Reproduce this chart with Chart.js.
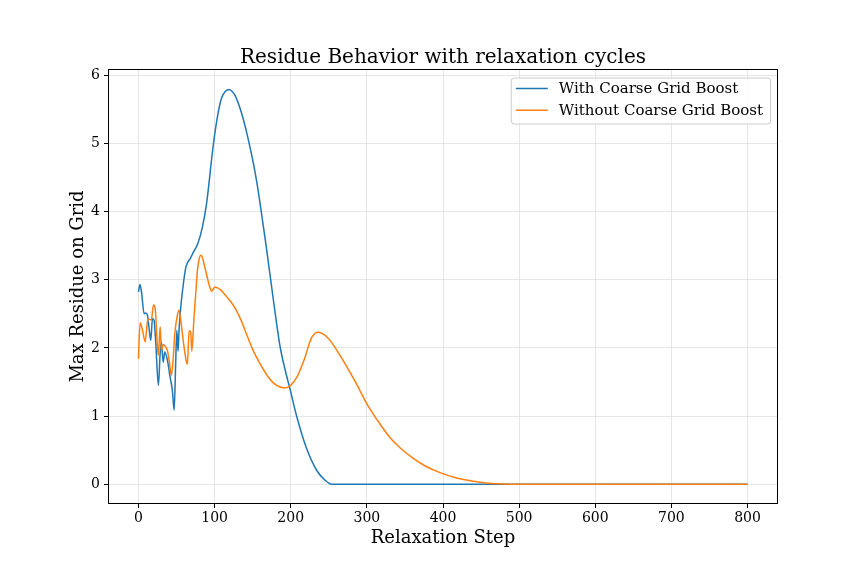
<!DOCTYPE html>
<html><head><meta charset="utf-8">
<script src="https://cdn.jsdelivr.net/npm/chart.js@4.4.0/dist/chart.umd.min.js"></script>
<style>html,body{margin:0;padding:0;background:#fff;} #wrap{width:864px;height:576px;}</style>
</head><body><div id="wrap"><canvas id="c" width="864" height="576"></canvas></div>
<script>
const titleText = 'Residue Behavior with relaxation cycles';
const xLabel = 'Relaxation Step';
const yLabel = 'Max Residue on Grid';
const seriesLabels = ['With Coarse Grid Boost', 'Without Coarse Grid Boost'];
const seriesColors = ['#1f77b4', '#ff7f0e'];
const xTicks = [0, 100, 200, 300, 400, 500, 600, 700, 800];
const yTicks = [0, 1, 2, 3, 4, 5, 6];

const stepsWith = [0, 2, 4, 7.5, 9.6, 11.8, 14, 16.2, 18.4, 20.6, 22.8, 26.2, 28.5, 30.2, 32.4, 34.6, 38, 41.6, 44.6, 46.9, 49, 50.4, 52, 53.4, 55.6, 59, 62, 65, 68, 72, 78, 84, 89.5, 98, 103, 109, 114, 119, 124, 127, 135.5, 146, 155, 166, 168.5, 177, 186, 193, 199, 208, 221, 234, 245, 254, 300, 400, 500, 600, 700, 800];
const residueWith = [2.82, 2.93, 2.82, 2.50, 2.51, 2.48, 2.28, 2.11, 2.43, 2.40, 2.06, 1.45, 1.92, 2.09, 1.79, 1.94, 1.82, 1.57, 1.37, 1.085, 1.82, 2.26, 1.95, 2.28, 2.60, 2.94, 3.17, 3.26, 3.31, 3.40, 3.53, 3.77, 4.12, 4.95, 5.34, 5.66, 5.76, 5.79, 5.75, 5.70, 5.44, 4.97, 4.46, 3.63, 3.43, 2.72, 2.02, 1.66, 1.40, 0.99, 0.52, 0.205, 0.06, 0, 0, 0, 0, 0, 0, 0];

const stepsWithout = [0, 2.2, 5.3, 8.8, 11.8, 14, 17, 19.7, 21.9, 25, 26.2, 28.5, 30.2, 32.8, 36, 38, 40.3, 43.3, 45.5, 47.7, 51.2, 53.4, 55.6, 59, 62.2, 64.3, 66.5, 68.7, 70, 73, 75, 77.5, 80, 82, 84, 87, 90, 93, 96, 98, 100, 104, 108, 113, 118, 123, 128, 135, 142, 150.7, 160, 170, 180, 192, 200, 208, 214, 219, 224, 228, 236, 243, 251.6, 264.7, 285, 300, 315, 330, 345, 361, 378, 396, 418, 440, 465, 500, 600, 700, 800];
const residueWithout = [1.84, 2.37, 2.26, 2.09, 2.38, 2.42, 2.41, 2.63, 2.58, 2.01, 1.89, 2.31, 1.96, 2.05, 2.01, 1.96, 1.82, 1.60, 1.82, 2.21, 2.48, 2.55, 2.40, 2.09, 1.84, 1.76, 2.25, 2.23, 1.95, 2.45, 2.76, 3.14, 3.32, 3.36, 3.33, 3.19, 3.05, 2.92, 2.83, 2.86, 2.89, 2.88, 2.85, 2.79, 2.72, 2.65, 2.56, 2.40, 2.20, 1.96, 1.76, 1.58, 1.46, 1.41, 1.45, 1.57, 1.72, 1.87, 2.05, 2.16, 2.23, 2.20, 2.11, 1.89, 1.50, 1.18, 0.92, 0.69, 0.52, 0.38, 0.26, 0.17, 0.09, 0.044, 0.01, 0, 0, 0, 0];

const FONT = "'DejaVu Serif', 'Liberation Serif', serif";

function toPoints(xs, ys) { return xs.map((x, i) => ({ x: x, y: ys[i] })); }

const decorPlugin = {
  id: 'decor',
  afterDatasetsDraw(chart) {
    const ctx = chart.ctx, a = chart.chartArea;
    ctx.save();
    // spines
    ctx.strokeStyle = '#000'; ctx.lineWidth = 1;
    ctx.strokeRect(Math.round(a.left) + 0.5, Math.round(a.top) + 0.5, Math.round(a.right - a.left) - 1, Math.round(a.bottom - a.top) - 1);
    // title
    ctx.fillStyle = '#000';
    ctx.font = '20px ' + FONT;
    ctx.textAlign = 'center'; ctx.textBaseline = 'alphabetic';
    ctx.fillText(titleText, (a.left + a.right) / 2, a.top - 6.5);
    // x label
    ctx.font = '18px ' + FONT;
    ctx.fillText(xLabel, (a.left + a.right) / 2, a.bottom + 38.5);
    // y label
    ctx.save();
    ctx.translate(a.left - 25, (a.top + a.bottom) / 2);
    ctx.rotate(-Math.PI / 2);
    ctx.fillText(yLabel, 0, 0);
    ctx.restore();
    // legend
    ctx.font = '15px ' + FONT;
    const textW = Math.max(...seriesLabels.map(s => ctx.measureText(s).width));
    const padL = 5, lineLen = 32, gap = 11, padR = 7;
    const boxW = padL + lineLen + gap + textW + padR;
    const boxH = 46;
    const bx = a.right - 8 - boxW, by = a.top + 8.5;
    ctx.beginPath();
    if (ctx.roundRect) ctx.roundRect(bx + 0.5, by + 0.5, boxW, boxH, 3); else ctx.rect(bx + 0.5, by + 0.5, boxW, boxH);
    ctx.fillStyle = 'rgba(255,255,255,0.8)'; ctx.fill();
    ctx.strokeStyle = '#cccccc'; ctx.lineWidth = 1; ctx.stroke();
    ctx.textAlign = 'left'; ctx.textBaseline = 'middle';
    chart.data.datasets.forEach((ds, i) => {
      const cy = by + 11 + i * 21.7;
      ctx.strokeStyle = ds.borderColor; ctx.lineWidth = 1.5;
      ctx.beginPath(); ctx.moveTo(bx + padL, cy); ctx.lineTo(bx + padL + lineLen, cy); ctx.stroke();
      ctx.fillStyle = '#000';
      ctx.fillText(ds.label, bx + padL + lineLen + gap, cy + 1);
    });
    ctx.restore();
  }
};

new Chart(document.getElementById('c'), {
  type: 'line',
  data: {
    datasets: [
      { label: seriesLabels[0], data: toPoints(stepsWith, residueWith), borderColor: seriesColors[0], backgroundColor: seriesColors[0], borderWidth: 1.5, pointRadius: 0, cubicInterpolationMode: 'monotone', fill: false, order: 1 },
      { label: seriesLabels[1], data: toPoints(stepsWithout, residueWithout), borderColor: seriesColors[1], backgroundColor: seriesColors[1], borderWidth: 1.5, pointRadius: 0, cubicInterpolationMode: 'monotone', fill: false, order: 0 }
    ]
  },
  options: {
    responsive: false,
    animation: false,
    devicePixelRatio: 1,
    layout: { padding: { left: 0, right: 86, top: 69, bottom: 0 } },
    plugins: { legend: { display: false }, title: { display: false }, tooltip: { enabled: false } },
    scales: {
      x: {
        type: 'linear', min: -40, max: 840,
        afterBuildTicks: s => { s.ticks = xTicks.map(v => ({ value: v })); },
        afterFit: s => { s.height = 72; },
        grid: { color: '#dfdfdf', lineWidth: 0.8, tickColor: '#000', tickLength: 4, tickWidth: 1 },
        border: { display: false },
        ticks: { color: '#000', font: { family: FONT, size: 14 }, padding: 2, maxRotation: 0, autoSkip: false }
      },
      y: {
        type: 'linear', min: -0.29, max: 6.09,
        afterBuildTicks: s => { s.ticks = yTicks.map(v => ({ value: v })); },
        afterFit: s => { s.width = 108; },
        grid: { color: '#dfdfdf', lineWidth: 0.8, tickColor: '#000', tickLength: 4, tickWidth: 1 },
        border: { display: false },
        ticks: { color: '#000', font: { family: FONT, size: 14 }, padding: 4, autoSkip: false }
      }
    }
  },
  plugins: [decorPlugin]
});
</script></body></html>
